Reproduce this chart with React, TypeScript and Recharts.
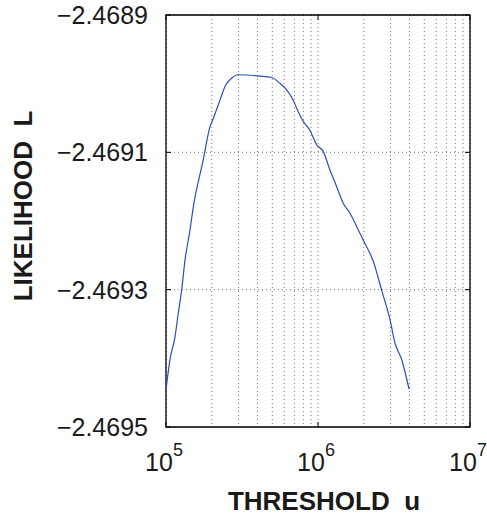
import React from 'react';
import { LineChart, Line, XAxis, YAxis, CartesianGrid, ReferenceArea, Label } from 'recharts';

// threshold u (log axis) and likelihood L
const thresholds = [
  100000, 106170, 114550, 120500, 126770, 133350, 143880, 151360, 175790, 194540,
  202770, 226490, 244340, 270400, 299230, 414950, 495450, 562340, 622300, 687070,
  741310, 799830, 885110, 979490, 1083900, 1199500, 1327400, 1465500, 1625600, 1888000,
  1986100, 2312100, 2624200, 2978700, 3213900, 3556000, 3971900,
];
const likelihood = [
  -2.469446, -2.469402, -2.469369, -2.469334, -2.4693005, -2.469257, -2.469213, -2.469179, -2.469111, -2.469063,
  -2.469053, -2.469024, -2.469004, -2.468992, -2.468987, -2.468989, -2.468991, -2.4689995, -2.469009, -2.469024,
  -2.469041, -2.469055, -2.469068, -2.469089, -2.469099, -2.469126, -2.46915, -2.469174, -2.469189, -2.469218,
  -2.469228, -2.469259, -2.469301, -2.469344, -2.469378, -2.469402, -2.469445,
];

const xTicks = [
  1e5, 2e5, 3e5, 4e5, 5e5, 6e5, 7e5, 8e5, 9e5,
  1e6, 2e6, 3e6, 4e6, 5e6, 6e6, 7e6, 8e6, 9e6, 1e7,
];
const yTicks = [-2.4695, -2.4693, -2.4691, -2.4689];
const xDomain = [1e5, 1e7];
const yDomain = [-2.4695, -2.4689];

const data = thresholds.map((u, i) => ({ u, L: likelihood[i] }));

const FONT = '"Liberation Sans", Arial, Helvetica, sans-serif';
const W = 487;
const H = 515;
const M = { top: 15, right: 17, left: 0, bottom: 0 };
const Y_W = 166;
const X_H = 88;
const PLOT_W = W - Y_W - M.right;
const PLOT_H = H - M.top - X_H;

function XTick(props: any) {
  const { x, y, payload } = props;
  const lg = Math.log10(payload.value);
  const exp = Math.round(lg);
  if (Math.abs(lg - exp) > 1e-9) return null;
  return (
    <g>
      <line x1={x} x2={x} y1={y} y2={y - 5} stroke="#000" />
      <line x1={x} x2={x} y1={y - PLOT_H} y2={y - PLOT_H + 5} stroke="#000" />
      <text x={x - 2} y={y + 44} textAnchor="middle" fontFamily={FONT} fontSize={25} fill="#1a1a1a">
        10<tspan dy={-15} fontSize={18}>{exp}</tspan>
      </text>
    </g>
  );
}

function YTick(props: any) {
  const { x, y, payload } = props;
  return (
    <g>
      <line x1={x} x2={x + 5} y1={y} y2={y} stroke="#000" />
      <line x1={x + PLOT_W} x2={x + PLOT_W - 5} y1={y} y2={y} stroke="#000" />
      <text x={x - 18} y={y} dy="0.36em" textAnchor="end" fontFamily={FONT} fontSize={25} fill="#1a1a1a">
        {'\u2212' + Math.abs(payload.value).toFixed(4)}
      </text>
    </g>
  );
}

function XTitle(props: any) {
  const { x, y, width } = props.viewBox;
  return (
    <text x={x + width / 2 + 6} y={y + 83} textAnchor="middle" fontFamily={FONT} fontWeight="bold" fontSize={26} fill="#1a1a1a">
      THRESHOLD{'\u00a0\u00a0'}u
    </text>
  );
}

function YTitle(props: any) {
  const { y, height } = props.viewBox;
  const cx = 32;
  const cy = y + height / 2 - 15;
  return (
    <text x={cx} y={cy} transform={`rotate(-90, ${cx}, ${cy})`} textAnchor="middle" fontFamily={FONT} fontWeight="bold" fontSize={26} fill="#1a1a1a">
      LIKELIHOOD{'\u00a0\u00a0'}L
    </text>
  );
}

export default function App() {
  return (
    <div style={{ position: 'absolute', left: 0, top: 0, width: W, height: H, background: '#fff' }}>
      <LineChart width={W} height={H} data={data} margin={M}>
        <CartesianGrid stroke="#777" strokeDasharray="1 3" />
        <XAxis
          dataKey="u"
          type="number"
          scale="log"
          domain={xDomain}
          ticks={xTicks}
          allowDataOverflow
          height={X_H}
          axisLine={false}
          tickLine={false}
          tickSize={0}
          tickMargin={0}
          tick={<XTick />}
          interval={0}
        >
          <Label content={<XTitle />} />
        </XAxis>
        <YAxis
          type="number"
          domain={yDomain}
          ticks={yTicks}
          allowDataOverflow
          width={Y_W}
          axisLine={false}
          tickLine={false}
          tickSize={0}
          tickMargin={0}
          tick={<YTick />}
          interval={0}
        >
          <Label content={<YTitle />} />
        </YAxis>
        <Line
          type="monotone"
          dataKey="L"
          stroke="#2c4fb3"
          strokeWidth={1.2}
          dot={false}
          isAnimationActive={false}
        />
        <ReferenceArea
          x1={xDomain[0]}
          x2={xDomain[1]}
          y1={yDomain[0]}
          y2={yDomain[1]}
          fill="none"
          stroke="#000"
          strokeWidth={1.3}
          ifOverflow="visible"
        />
      </LineChart>
    </div>
  );
}
